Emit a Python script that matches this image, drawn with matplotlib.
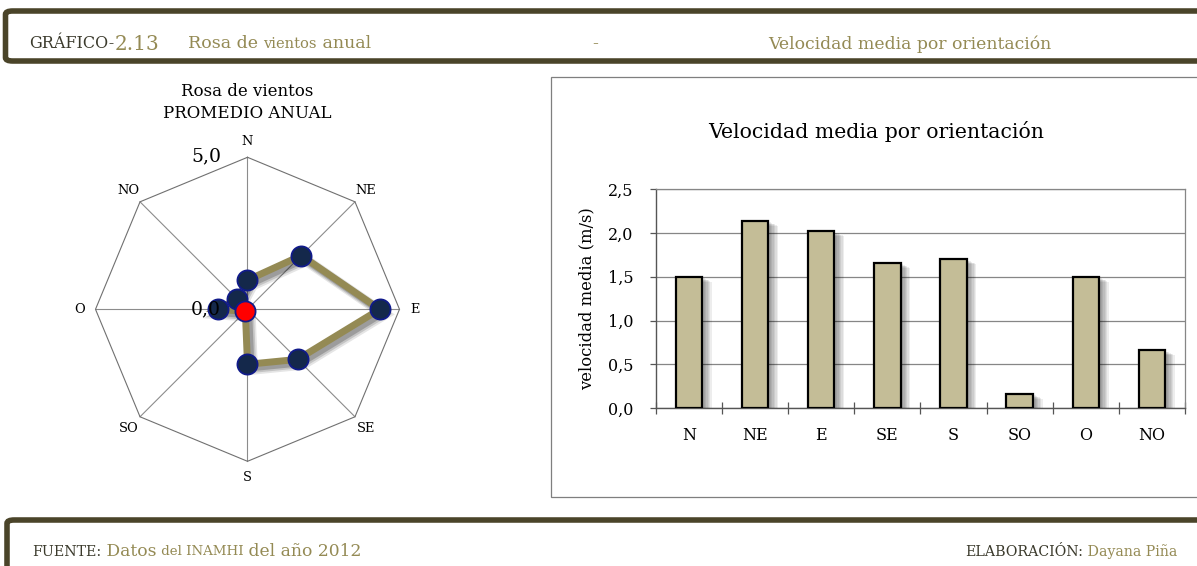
import numpy as np
import matplotlib
matplotlib.use("Agg")
import matplotlib.pyplot as plt
from matplotlib.patches import FancyBboxPatch, Rectangle
import matplotlib.patheffects as pe

# ---------------- data ----------------
directions = ["N", "NE", "E", "SE", "S", "SO", "O", "NO"]
rose_values = [0.96, 2.50, 4.35, 2.33, 1.81, 0.10, 0.97, 0.47]
speed_values = [1.50, 2.14, 2.02, 1.66, 1.70, 0.16, 1.50, 0.66]
y_ticks = [0.0, 0.5, 1.0, 1.5, 2.0, 2.5]
y_tick_labels = ["0,0", "0,5", "1,0", "1,5", "2,0", "2,5"]
rose_max = 5.0
rose_tick_labels = ["0,0", "5,0"]

W, H = 1197, 566
DPI = 100
plt.rcParams['font.family'] = ['DejaVu Serif']

fig = plt.figure(figsize=(W / DPI, H / DPI), dpi=DPI)
fig.patch.set_facecolor("white")

DARK = "#3b3a2c"
OLIVE = "#948a54"
BAND = "#4a4429"


def fx(x):
    return x / W


def fy(y):
    return 1 - y / H


renderer = fig.canvas.get_renderer()


def chain(x, y, parts, ha="left"):
    """parts: list of (text, color, size)."""
    texts = []
    cur = x
    for s, c, sz in parts:
        t = fig.text(fx(cur), fy(y), s, color=c, fontsize=sz, va="center_baseline", ha="left")
        bb = t.get_window_extent(renderer)
        cur += bb.width
        texts.append(t)
    if ha == "right":
        total = cur - x
        for t in texts:
            px, py = t.get_position()
            t.set_position((px - total / W, py))
    return texts


# ---------------- header & footer frames ----------------
hdr = FancyBboxPatch((fx(5.5), fy(61)), fx(1300), 50 / H,
                     boxstyle="round,pad=0,rounding_size=0.006",
                     transform=fig.transFigure, facecolor="white",
                     edgecolor=BAND, linewidth=4.0, zorder=-2)
fig.patches.append(hdr)
ftr = FancyBboxPatch((fx(7), fy(620)), fx(1300), 100 / H,
                     boxstyle="round,pad=0,rounding_size=0.006",
                     transform=fig.transFigure, facecolor="white",
                     edgecolor=BAND, linewidth=4.0, zorder=-2)
fig.patches.append(ftr)

# bar chart frame
frame = Rectangle((fx(550.5), fy(497)), fx(700), (497 - 77) / H,
                  transform=fig.transFigure, facecolor="white",
                  edgecolor="#7f7f7f", linewidth=0.9, zorder=-2)
fig.patches.append(frame)

# header texts
chain(29, 42, [("GRÁFICO-", DARK, 11.5), ("2.13", OLIVE, 14.5)])
chain(188, 42, [("Rosa de ", OLIVE, 12.5), ("vientos", OLIVE, 10.5), (" anual", OLIVE, 12.5)])
chain(592, 42, [("-", OLIVE, 12.5)])
chain(768, 42, [("Velocidad media por orientación", OLIVE, 12.4)])

# footer texts
chain(32, 550, [("FUENTE:", DARK, 10.2), (" Datos", OLIVE, 12.3),
                (" del INAMHI", OLIVE, 9.6), (" del año 2012", OLIVE, 12.3)])
chain(1177, 550, [("ELABORACIÓN:", DARK, 10.2), (" Dayana Piña", OLIVE, 10.2)], ha="right")

# ---------------- radar (rose) ----------------
cx, cy, R = 247.5, 309.3, 152
axr = fig.add_axes([fx(cx - R), fy(cy + R), 2 * R / W, 2 * R / H], projection="polar")
axr.set_theta_zero_location("N")
axr.set_theta_direction(-1)
axr.set_ylim(0, rose_max)
axr.grid(False)
axr.spines["polar"].set_visible(False)
axr.set_xticks([])
axr.set_yticks([])
axr.patch.set_alpha(0)

theta = np.deg2rad(np.arange(len(directions)) * 360 / len(directions))
# spokes
for t in theta:
    axr.plot([t, t], [0, rose_max], color="#8c8c8c", lw=0.8, zorder=1, clip_on=False)
# octagon outline
th_c = np.append(theta, theta[0])
axr.plot(th_c, [rose_max] * len(th_c), color="#707070", lw=0.8, zorder=1, clip_on=False)
# direction labels
for t, d in zip(theta, directions):
    axr.text(t, rose_max * 1.105, d, ha="center", va="center", fontsize=9.4, color="black",
             clip_on=False)
# axis value labels
axr.annotate(rose_tick_labels[1], xy=(0, rose_max), xytext=(-19, 0.5), textcoords="offset points",
             ha="right", va="center", fontsize=13.5, color="black", annotation_clip=False)
axr.annotate(rose_tick_labels[0], xy=(0, 0), xytext=(-19, 0), textcoords="offset points",
             ha="right", va="center", fontsize=13.5, color="black", annotation_clip=False, zorder=6)

vals_c = np.append(rose_values, rose_values[0])
line_shadow = [pe.SimpleLineShadow(offset=(o, -o), shadow_color="black", alpha=a, linewidth=5 + w)
               for o, a, w in [(3.5, 0.10, 3), (3.0, 0.14, 1.5), (2.5, 0.2, 0)]]
axr.plot(th_c, vals_c, color=OLIVE, lw=5, solid_joinstyle="miter", zorder=2, clip_on=False,
         path_effects=line_shadow + [pe.Normal()])
mcolors = ["#14284b"] * len(directions)
mcolors[directions.index("SO")] = "#ff0000"
order = [0, 1, 2, 3, 4, 6, 7, 5]
for i in order:
    axr.plot([theta[i]], [rose_values[i]], marker="o", ms=14.5, mfc=mcolors[i], mec="#101a8a",
             mew=1.3, zorder=4 if i != 5 else 7, clip_on=False)

fig.text(fx(247), fy(92), "Rosa de vientos", ha="center", va="center", fontsize=12, color="black")
fig.text(fx(247), fy(114), "PROMEDIO ANUAL", ha="center", va="center", fontsize=12, color="black")

# ---------------- bar chart ----------------
L, Rr, T, B = 655.7, 1185, 189.3, 408
axb = fig.add_axes([fx(L), fy(B), (Rr - L) / W, (B - T) / H])
x = np.arange(len(directions))
shadow = [pe.SimplePatchShadow(offset=(k, -0.5 * k), shadow_rgbFace="#000000", alpha=0.07)
          for k in (7, 6, 5, 4, 3, 2)] + [pe.Normal()]
bars = axb.bar(x, speed_values, width=0.40, color="#c4bd97", edgecolor="black", linewidth=1.6,
               zorder=3)
for b in bars:
    b.set_path_effects(shadow)
axb.set_xlim(-0.5, len(directions) - 0.5)
axb.set_ylim(0, 2.5)
axb.set_yticks(y_ticks)
axb.set_yticklabels(y_tick_labels)
axb.set_xticks(x)
axb.set_xticklabels(directions)
axb.set_xticks(np.arange(len(directions) + 1) - 0.5, minor=True)
axb.tick_params(axis="x", which="major", length=0, pad=14, labelsize=11.5)
axb.tick_params(axis="x", which="minor", length=9, direction="inout", color="#555555", width=0.9)
axb.tick_params(axis="y", length=4.2, direction="out", color="#555555", width=0.9, labelsize=11.5,
                pad=12)
axb.yaxis.grid(True, color="#868686", lw=0.9, zorder=0)
axb.set_axisbelow(True)
for s in ["left", "bottom"]:
    axb.spines[s].set_color("#555555")
    axb.spines[s].set_linewidth(1.0)
for s in ["top", "right"]:
    axb.spines[s].set_color("#868686")
    axb.spines[s].set_linewidth(0.9)
axb.set_ylabel("velocidad media (m/s)", fontsize=11.8, labelpad=9)
fig.text(fx(876), fy(132), "Velocidad media por orientación", ha="center", va="center",
         fontsize=14.7, color="black")

fig.savefig("out.png", dpi=DPI, facecolor="white")
